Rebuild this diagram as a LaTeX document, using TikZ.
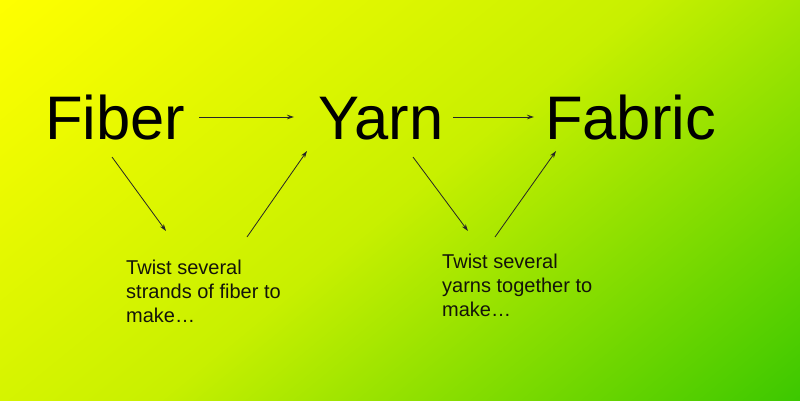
\documentclass[tikz,border=0pt]{standalone}
\usepackage{fontspec}
\setmainfont{Liberation Sans}
\usetikzlibrary{arrows.meta}
\definecolor{bgstart}{RGB}{255,255,0}
\definecolor{bgmid}{RGB}{200,240,0}
\definecolor{bgend}{RGB}{60,200,0}
\definecolor{txtdark}{RGB}{20,20,10}
\tikzset{
  big/.style={anchor=base west, inner sep=0pt, font=\fontsize{61.5}{62}\selectfont, text=black},
  note/.style={anchor=base west, inner sep=0pt, align=left, font=\fontsize{20}{24}\selectfont, text=txtdark},
  arr/.style={draw=black!85, line width=0.8pt, -{Stealth[length=7pt,width=4.5pt]}}
}
\begin{document}
\begin{tikzpicture}[x=1pt,y=-1pt]
\useasboundingbox (0,0) rectangle (800,400);
\begin{scope}
\clip (0,0) rectangle (800,400);
\begin{scope}[transform canvas={rotate=-50.8}]
\foreach \i in {0,...,203}{
  \pgfmathsetmacro\p{\i/2.04}
  \fill[bgmid!\p!bgstart] (2*\i,-720) rectangle (2*\i+2.8,340);
}
\foreach \i in {0,...,207}{
  \pgfmathsetmacro\p{min(100,\i/2.04)}
  \fill[bgend!\p!bgmid] (408+2*\i,-720) rectangle (410.8+2*\i,340);
}
\end{scope}
\end{scope}
\node[big] (fiber) at (45,139) {Fiber};
\node[big] (yarn) at (318,139) {Yarn};
\node[big] (fabric) at (545,139) {Fabric};
\node[note] (n1) at (126,322) {Twist several\\strands of fiber to\\make…};
\node[note] (n2) at (442,316) {Twist several\\yarns together to\\make…};
\coordinate (a1s) at (199,117); \coordinate (a1e) at (294,117);
\coordinate (a2s) at (453,117); \coordinate (a2e) at (534,117);
\coordinate (d1s) at (112,157); \coordinate (d1e) at (166,231);
\coordinate (u1s) at (247,237); \coordinate (u1e) at (307,151);
\coordinate (d2s) at (413,157); \coordinate (d2e) at (468,231);
\coordinate (u2s) at (495,237); \coordinate (u2e) at (556,151);
\draw[arr] (a1s) -- (a1e);
\draw[arr] (a2s) -- (a2e);
\draw[arr] (d1s) -- (d1e);
\draw[arr] (u1s) -- (u1e);
\draw[arr] (d2s) -- (d2e);
\draw[arr] (u2s) -- (u2e);
\end{tikzpicture}
\end{document}
